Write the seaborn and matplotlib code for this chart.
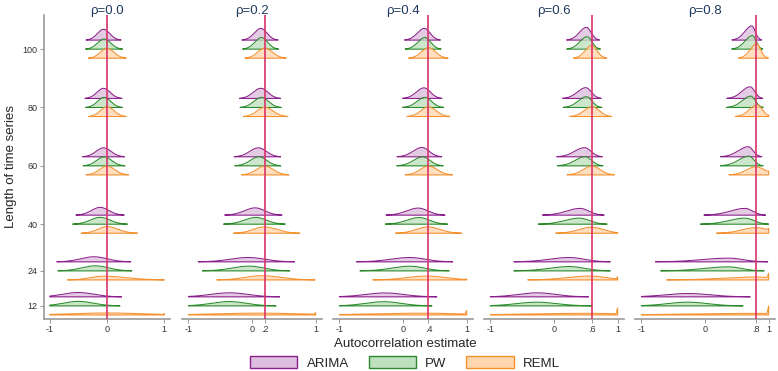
import numpy as np
import pandas as pd
import matplotlib
matplotlib.use("Agg")
import matplotlib.pyplot as plt
from matplotlib.patches import Patch
import seaborn as sns

# --- DATA ---
RHOS = [0.0, 0.2, 0.4, 0.6, 0.8]
RHO_TITLES = ["ρ=0.0", "ρ=0.2", "ρ=0.4", "ρ=0.6", "ρ=0.8"]
LENGTHS = [12, 24, 40, 60, 80, 100]
METHODS = ["ARIMA", "PW", "REML"]

# mode of each estimate distribution: rows = rho, cols = length
ARIMA_MODE = [[-0.50, -0.23, -0.12, -0.06, -0.06, -0.06],
              [-0.35, -0.06, 0.05, 0.10, 0.14, 0.14],
              [-0.28, 0.11, 0.24, 0.30, 0.33, 0.335],
              [-0.27, 0.24, 0.41, 0.48, 0.50, 0.51],
              [-0.27, 0.37, 0.63, 0.68, 0.71, 0.735]]
ARIMA_SL = [[0.27, 0.23, 0.15, 0.13, 0.115, 0.108],
            [0.30, 0.28, 0.17, 0.135, 0.12, 0.105],
            [0.31, 0.30, 0.18, 0.14, 0.12, 0.11],
            [0.29, 0.31, 0.21, 0.155, 0.13, 0.11],
            [0.35, 0.41, 0.23, 0.155, 0.13, 0.11]]
ARIMA_SR = [[0.27, 0.23, 0.15, 0.13, 0.115, 0.108],
            [0.28, 0.26, 0.15, 0.125, 0.11, 0.095],
            [0.29, 0.24, 0.15, 0.11, 0.10, 0.09],
            [0.29, 0.23, 0.135, 0.10, 0.086, 0.073],
            [0.35, 0.22, 0.115, 0.076, 0.07, 0.055]]

PW_MODE = [[-0.50, -0.21, -0.12, -0.05, -0.05, -0.05],
           [-0.35, -0.05, 0.06, 0.11, 0.15, 0.15],
           [-0.30, 0.11, 0.255, 0.31, 0.345, 0.345],
           [-0.27, 0.24, 0.40, 0.49, 0.51, 0.52],
           [-0.27, 0.37, 0.63, 0.69, 0.72, 0.745]]
PW_SL = [[0.26, 0.23, 0.17, 0.13, 0.115, 0.115],
         [0.28, 0.26, 0.18, 0.135, 0.12, 0.105],
         [0.29, 0.28, 0.19, 0.145, 0.125, 0.11],
         [0.32, 0.31, 0.23, 0.155, 0.13, 0.113],
         [0.32, 0.38, 0.25, 0.16, 0.135, 0.115]]
PW_SR = [[0.26, 0.23, 0.17, 0.13, 0.115, 0.115],
         [0.26, 0.23, 0.165, 0.122, 0.11, 0.095],
         [0.27, 0.22, 0.16, 0.115, 0.105, 0.09],
         [0.31, 0.23, 0.155, 0.10, 0.086, 0.075],
         [0.31, 0.20, 0.135, 0.08, 0.07, 0.058]]

REML_MODE = [[0.0, -0.07, 0.0, 0.0, 0.0, 0.0],
             [0.10, 0.15, 0.19, 0.20, 0.20, 0.20],
             [0.30, 0.37, 0.39, 0.40, 0.40, 0.40],
             [0.50, 0.57, 0.59, 0.60, 0.60, 0.59],
             [0.80, 0.80, 0.80, 0.80, 0.82, 0.81]]
REML_SL = [[0.60, 0.22, 0.16, 0.13, 0.115, 0.115],
           [0.65, 0.25, 0.17, 0.13, 0.12, 0.11],
           [0.75, 0.30, 0.18, 0.13, 0.12, 0.11],
           [0.85, 0.35, 0.20, 0.14, 0.125, 0.10],
           [1.00, 0.50, 0.22, 0.15, 0.12, 0.10]]
REML_SR = [[0.60, 0.40, 0.19, 0.135, 0.12, 0.12],
           [0.65, 0.30, 0.20, 0.135, 0.13, 0.12],
           [0.60, 0.30, 0.19, 0.135, 0.12, 0.11],
           [0.60, 0.25, 0.19, 0.125, 0.11, 0.085],
           [0.50, 0.30, 0.20, 0.14, 0.08, 0.065]]
# extra mass piled up at the boundary estimate of 1 (REML only)
REML_SPIKE = [[0.3, 0, 0, 0, 0, 0],
              [0.5, 0, 0, 0, 0, 0],
              [1.2, 0.2, 0, 0, 0, 0],
              [2.0, 0.8, 0, 0, 0, 0],
              [2.6, 1.5, 0.5, 0.3, 0.2, 0.2]]

PARAMS = {"ARIMA": (ARIMA_MODE, ARIMA_SL, ARIMA_SR, None),
          "PW": (PW_MODE, PW_SL, PW_SR, None),
          "REML": (REML_MODE, REML_SL, REML_SR, REML_SPIKE)}

# --- STYLE ---
LINE_COLORS = {"ARIMA": "#8B1F8B", "PW": "#2A8A2A", "REML": "#F5902E"}
FILL_COLORS = {"ARIMA": "#DEBEDE", "PW": "#BEE0BE", "REML": "#FFD7AF"}
OFFSETS = {"ARIMA": 3.1, "PW": 0.0, "REML": -3.1}
RED = "#D9336A"
TITLE_COLOR = "#1E3A5F"
AXIS_GREY = "#9A9A9A"

sns.set_theme(style="white")
plt.rcParams['font.family'] = ['Liberation Sans', 'DejaVu Sans']


def ridge(mode, sl, sr, spike=0.0):
    lo = max(-1.0, mode - 2.8 * sl)
    hi = min(1.0, mode + 2.8 * sr)
    x = np.linspace(lo, hi, 300)
    s = np.where(x < mode, sl, sr)
    y = 2.0 / ((sl + sr) * np.sqrt(2 * np.pi)) * np.exp(-0.5 * ((x - mode) / s) ** 2)
    if spike > 0:
        y = y + spike * np.clip(1 - (1 - x) / 0.025, 0, None)
    return x, y


W, H = 778, 371
fig = plt.figure(figsize=(W / 100, H / 100), dpi=100)
panel_px = [(44, 170), (182, 322), (333, 473), (484, 624), (635, 775)]
top_px, bot_px = 15, 319

for i, rho in enumerate(RHOS):
    l, r = panel_px[i]
    ax = fig.add_axes([l / W, (H - bot_px) / H, (r - l) / W, (bot_px - top_px) / H])
    zo = 2
    for m in METHODS:
        modes, sls, srs, spikes = PARAMS[m]
        for j, L in enumerate(LENGTHS):
            sp = spikes[i][j] if spikes is not None else 0.0
            x, y = ridge(modes[i][j], sls[i][j], srs[i][j], sp)
            base = L + OFFSETS[m]
            ax.fill_between(x, base, base + y, color=FILL_COLORS[m], alpha=0.8, lw=0,
                            zorder=zo)
            xo = np.concatenate([x, [x[-1], x[0]]])
            yo = np.concatenate([base + y, [base, base]])
            sns.lineplot(x=xo, y=yo, ax=ax, color=LINE_COLORS[m], lw=0.75,
                         estimator=None, sort=False, zorder=zo + 0.5)
        zo += 1
    ax.axvline(rho, color=RED, lw=1.2, zorder=10)
    ax.set_xlim(-1.1, 1.1)
    ax.set_ylim(7.5, 111.7)
    ax.set_xlabel("")
    ax.set_ylabel("")
    ax.set_title(RHO_TITLES[i], color=TITLE_COLOR, fontsize=9.5, pad=1)

    xt = [-1, 0, 1] if rho == 0 else [-1, 0, rho, 1]
    xl = ["-1", "0", "1"] if rho == 0 else ["-1", "0", f"{rho:.1f}".lstrip("0"), "1"]
    ax.set_xticks(xt)
    ax.set_xticklabels(xl, fontsize=6.5, color="#333333")
    ax.tick_params(axis="x", length=3, width=0.7, color=AXIS_GREY, pad=1.5, bottom=True)

    for side in ["top", "right"]:
        ax.spines[side].set_visible(False)
    ax.spines["bottom"].set_color(AXIS_GREY)
    ax.spines["bottom"].set_linewidth(1.2)
    if i == 0:
        ax.set_yticks(LENGTHS)
        ax.set_yticklabels([str(v) for v in LENGTHS], fontsize=6.5, color="#333333")
        ax.tick_params(axis="y", length=3, width=0.7, color=AXIS_GREY, pad=1.5, left=True)
        ax.spines["left"].set_color(AXIS_GREY)
        ax.spines["left"].set_linewidth(1.2)
        ax.set_ylabel("Length of time series", fontsize=9.5, labelpad=4)
    else:
        ax.spines["left"].set_visible(False)
        ax.set_yticks([])

fig.text(405 / W, (H - 344) / H, "Autocorrelation estimate", ha="center", va="center",
         fontsize=9.5)

handles = [Patch(facecolor=FILL_COLORS[m], edgecolor=LINE_COLORS[m], lw=1.0)
           for m in METHODS]
fig.legend(handles, METHODS, loc="center", bbox_to_anchor=(405 / W, (H - 363) / H),
           ncol=3, frameon=False, fontsize=9.5, handlelength=3.6, handleheight=1.0,
           handletextpad=0.7, columnspacing=1.5)

fig.savefig("out.png", dpi=100)
